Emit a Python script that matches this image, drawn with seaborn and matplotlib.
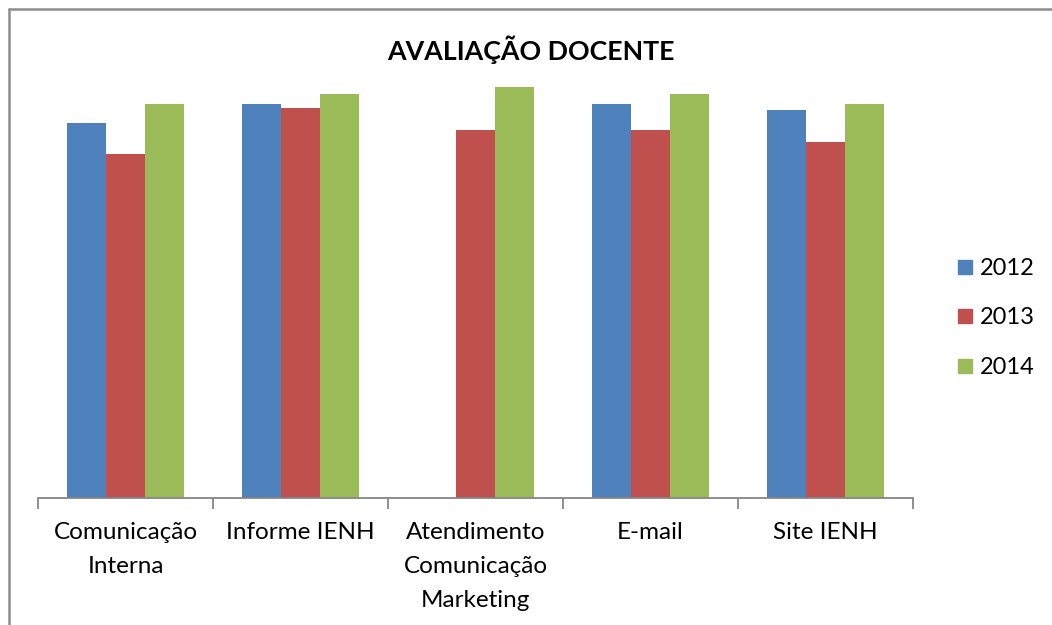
import numpy as np
import pandas as pd
import matplotlib.pyplot as plt
import seaborn as sns
from matplotlib.lines import Line2D
from matplotlib.ticker import FixedLocator

categorias = ["Comunicação\nInterna", "Informe IENH", "Atendimento\nComunicação\nMarketing",
              "E-mail", "Site IENH"]
anos = ["2012", "2013", "2014"]
v2012 = [3.74, 3.93, np.nan, 3.93, 3.87]
v2013 = [3.43, 3.89, 3.67, 3.67, 3.55]
v2014 = [3.93, 4.03, 4.10, 4.03, 3.93]
cores = ["#4F81BD", "#C0504D", "#9BBB59"]

df = pd.DataFrame({
    "categoria": categorias * 3,
    "ano": [a for a in anos for _ in categorias],
    "valor": v2012 + v2013 + v2014,
})

sns.set_style("white")
plt.rcParams["font.family"] = ["Lato", "DejaVu Sans"]
plt.rcParams["text.color"] = "black"
plt.rcParams["xtick.color"] = "black"

fig = plt.figure(figsize=(10.52, 6.25), dpi=100)
ax = fig.add_axes([38 / 1052, 1 - 498 / 625, 875 / 1052, 428 / 625])

sns.barplot(data=df, x="categoria", y="valor", hue="ano", palette=cores,
            width=0.67, order=categorias, hue_order=anos, ax=ax,
            edgecolor="none", saturation=1, legend=False)

ax.set_xlim(-0.5, len(categorias) - 0.5)
ax.set_ylim(0, 4.27)
ax.set_xlabel("")
ax.set_ylabel("")
ax.set_yticks([])
for s in ["top", "right", "left"]:
    ax.spines[s].set_visible(False)
ax.spines["bottom"].set_color("#868686")
ax.spines["bottom"].set_linewidth(1.3)

ax.tick_params(axis="x", which="major", length=0, pad=17, labelsize=17.5,
               labelcolor="black")
ax.set_xticks(range(len(categorias)))
ax.set_xticklabels(categorias, linespacing=1.78)
ax.xaxis.set_minor_locator(FixedLocator(np.arange(-0.5, len(categorias), 1.0)))
ax.tick_params(axis="x", which="minor", length=8, width=1.3, color="#868686",
               direction="out", bottom=True)

fig.text(531 / 1052, 1 - 50 / 625, "AVALIAÇÃO DOCENTE", ha="center", va="center",
         fontsize=19.3, fontweight="bold", color="black")

handles = [Line2D([0], [0], marker="s", linestyle="none", markersize=10,
                  markerfacecolor=c, markeredgecolor=c) for c in cores]
fig.legend(handles, anos, loc="center left", bbox_to_anchor=(935 / 1052, 1 - 318 / 625),
           frameon=False, fontsize=17, handlelength=0.7, handletextpad=0.3,
           labelspacing=1.2, labelcolor="black")

# borda externa (apenas topo e esquerda visíveis)
fig.add_artist(Line2D([9 / 1052, 1], [1 - 8.5 / 625, 1 - 8.5 / 625],
                      transform=fig.transFigure, color="#8C8C8C", lw=1.8))
fig.add_artist(Line2D([9.5 / 1052, 9.5 / 1052], [0, 1 - 8.5 / 625],
                      transform=fig.transFigure, color="#8C8C8C", lw=1.8))

fig.savefig("out.png", dpi=100)
